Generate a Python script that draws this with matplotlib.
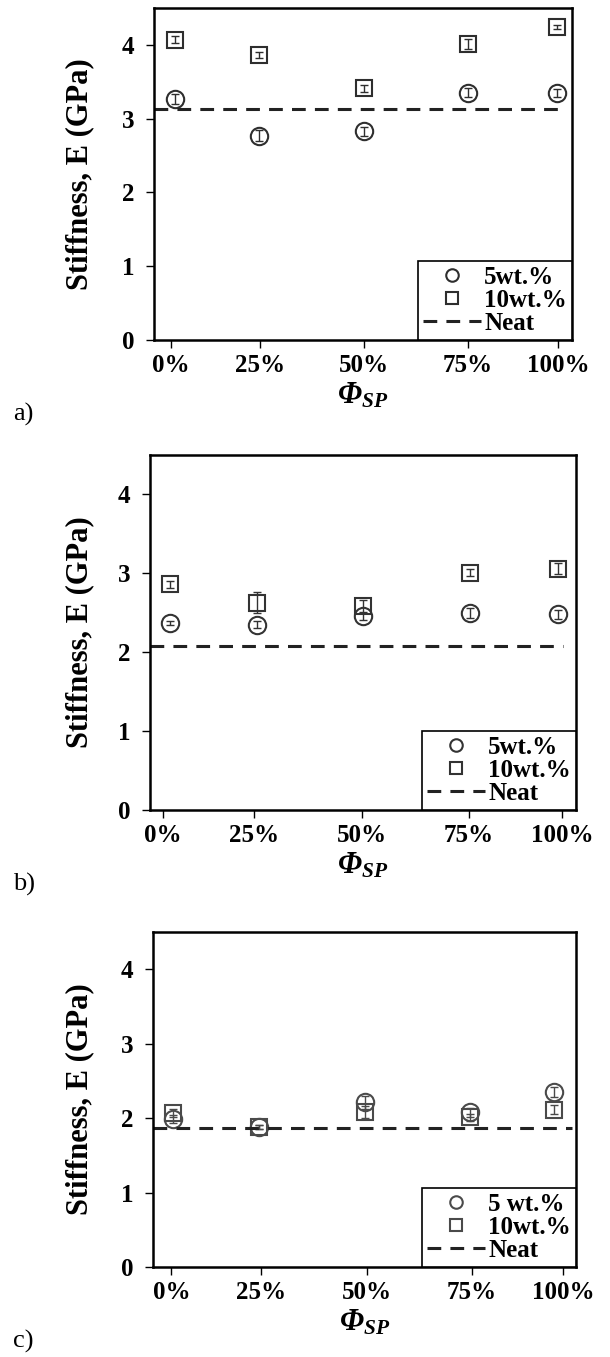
import matplotlib
matplotlib.use("Agg")
import matplotlib.pyplot as plt

plt.rcParams['font.family'] = ['Liberation Serif', 'DejaVu Serif']
plt.rcParams['font.weight'] = 'bold'
plt.rcParams['mathtext.fontset'] = 'custom'
plt.rcParams['mathtext.rm'] = 'Liberation Serif:italic:bold'
plt.rcParams['mathtext.it'] = 'Liberation Serif:italic:bold'

# x tick labels and where they sit on the (stretched) phi axis
phi_labels = ['0%', '25%', '50%', '75%', '100%']
phi_ticks = [0, 22.9, 49.8, 76.7, 100]
y_ticks = [0, 1, 2, 3, 4]

# panel a
a_x = [1.0, 22.7, 49.9, 76.7, 99.7]
a_5wt = [3.27, 2.77, 2.83, 3.35, 3.35]
a_5wt_err = [0.07, 0.07, 0.06, 0.06, 0.05]
a_10wt = [4.07, 3.86, 3.41, 4.01, 4.24]
a_10wt_err = [0.05, 0.04, 0.05, 0.07, 0.03]
a_neat = 3.13

# panel b
b_x = [1.9, 23.6, 50.1, 77.0, 98.9]
b_5wt = [2.37, 2.35, 2.46, 2.50, 2.48]
b_5wt_err = [0.03, 0.04, 0.05, 0.06, 0.06]
b_10wt = [2.86, 2.63, 2.58, 3.01, 3.06]
b_10wt_err = [0.04, 0.13, 0.08, 0.05, 0.07]
b_neat = 2.08

# panel c
c_x = [0.5, 22.3, 49.3, 76.2, 97.6]
c_5wt = [1.99, 1.88, 2.21, 2.08, 2.35]
c_5wt_err = [0.05, 0.03, 0.09, 0.06, 0.07]
c_10wt = [2.07, 1.88, 2.08, 2.01, 2.11]
c_10wt_err = [0.05, 0.03, 0.08, 0.05, 0.06]
c_neat = 1.87

W, H = 610, 1357

# box = left, top, right, bottom in pixels
panels = [
    dict(box=(154, 8, 572, 340), xlim=(-4.4, 103.6), xmax=0.978, tag='a)', lab5='5wt.%',
         x=a_x, y5=a_5wt, e5=a_5wt_err, y10=a_10wt, e10=a_10wt_err, neat=a_neat, col='#2e2e2e'),
    dict(box=(150, 455, 576, 810), xlim=(-3.2, 103.5), xmax=0.97, tag='b)', lab5='5wt.%',
         x=b_x, y5=b_5wt, e5=b_5wt_err, y10=b_10wt, e10=b_10wt_err, neat=b_neat, col='#333333'),
    dict(box=(153, 932, 576, 1267), xlim=(-4.7, 103.2), xmax=0.99, tag='c)', lab5='5 wt.%',
         x=c_x, y5=c_5wt, e5=c_5wt_err, y10=c_10wt, e10=c_10wt_err, neat=c_neat, col='#4a4a4a'),
]

fig = plt.figure(figsize=(W / 100, H / 100), dpi=100)

for p in panels:
    l, t, r, b = p['box']
    ax = fig.add_axes([l / W, 1 - b / H, (r - l) / W, (b - t) / H])
    col = p['col']

    # error bars first, markers on top
    ax.errorbar(p['x'], p['y5'], yerr=p['e5'], fmt='none', ecolor=col, elinewidth=1, capsize=3, capthick=1)
    ax.errorbar(p['x'], p['y10'], yerr=p['e10'], fmt='none', ecolor=col, elinewidth=1, capsize=3, capthick=1)
    ax.plot(p['x'], p['y5'], ls='none', marker='o', ms=12.5, mfc='none', mec=col, mew=1.5, label=p['lab5'])
    ax.plot(p['x'], p['y10'], ls='none', marker='s', ms=12, mfc='none', mec=col, mew=1.5, label='10wt.%')
    ax.axhline(p['neat'], xmin=0, xmax=p['xmax'], color='#222222', lw=2.2, dashes=(4.5, 3), label='Neat')

    ax.set_xlim(*p['xlim'])
    ax.set_ylim(0, 4.5)
    ax.set_xticks(phi_ticks)
    ax.set_xticklabels(phi_labels)
    ax.set_yticks(y_ticks)
    ax.tick_params(axis='x', direction='out', length=6, width=1, pad=4, labelsize=18)
    ax.tick_params(axis='y', direction='out', length=6, width=1, pad=8, labelsize=18)
    for s in ax.spines.values():
        s.set_linewidth(1.8)

    ax.set_ylabel('Stiffness, E (GPa)', fontsize=22, fontweight='bold')
    ax.yaxis.label.set_va('center')
    ax.yaxis.set_label_coords((80 - l) / (r - l), 0.5)

    leg = ax.legend(loc='lower right', borderaxespad=0, fontsize=18, frameon=True, fancybox=False,
                    edgecolor='black', framealpha=1, handlelength=2.3, handletextpad=0.15,
                    labelspacing=0.0, borderpad=0.2, markerscale=0.72)
    leg.get_frame().set_linewidth(1.2)

    xc = (l + r) / 2
    fig.text(xc / W, 1 - (b + 56) / H, r'$Φ_{SP}$', fontsize=22, ha='center', va='center')
    fig.text(13 / W, 1 - (b + 74) / H, p['tag'], fontsize=19, fontweight='normal', ha='left', va='center')

fig.savefig('out.png', dpi=100)
